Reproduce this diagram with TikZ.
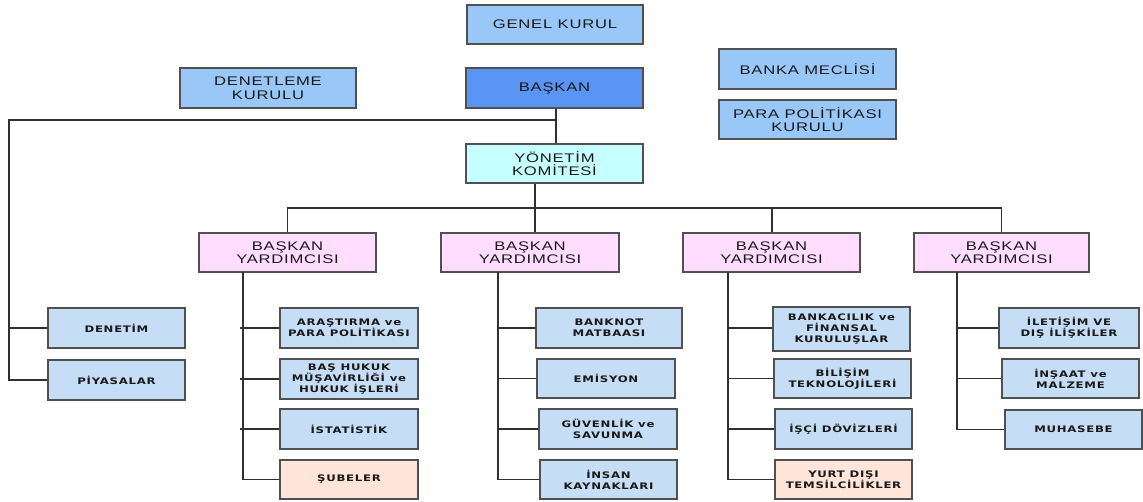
\documentclass[tikz,border=0pt]{standalone}
\usepackage{fontspec}
\newfontfamily\topf[FakeStretch=1.33,LetterSpace=6]{Liberation Sans}
\newfontfamily\subf[FakeStretch=1.3,LetterSpace=8]{DejaVu Sans}
\definecolor{topblue}{HTML}{99C8F8}
\definecolor{chiefblue}{HTML}{5A94F5}
\definecolor{cyanbox}{HTML}{C6FFFF}
\definecolor{pinkbox}{HTML}{FFDDFF}
\definecolor{subblue}{HTML}{C6DDF6}
\definecolor{peach}{HTML}{FFE4DA}
\definecolor{edge}{HTML}{505050}
\definecolor{wire}{HTML}{303030}
\tikzset{
  topbox/.style={draw=edge, line width=1.5pt, fill=topblue, align=center, inner sep=0pt,
    font=\topf\fontsize{12.5}{13.6}\selectfont, text=black!90},
  subbox/.style={draw=edge, line width=1.5pt, fill=subblue, align=center, inner sep=0pt,
    font=\subf\bfseries\fontsize{9}{10.8}\selectfont, text=black!90},
  wire/.style={draw=wire, line width=1.3pt}
}
\begin{document}
\begin{tikzpicture}[x=1pt,y=-1pt]
\useasboundingbox[fill=white] (0,0) rectangle (1143,502);
% top level
\node[topbox, minimum width=176, minimum height=39] (genel) at (555,24.5) {GENEL KURUL};
\node[topbox, minimum width=176, minimum height=40] (denetleme) at (268,88) {DENETLEME\\KURULU};
\node[topbox, fill=chiefblue, minimum width=177, minimum height=40] (baskan) at (554.5,88) {BAŞKAN};
\node[topbox, fill=cyanbox, minimum width=177, minimum height=39] (yonetim) at (554.5,163.5) {YÖNETİM\\KOMİTESİ};
\node[topbox, minimum width=177, minimum height=40] (banka) at (807.5,69) {BANKA MECLİSİ};
\node[topbox, minimum width=177, minimum height=39] (para) at (807.5,119.5) {PARA POLİTİKASI\\KURULU};
% vice presidents
\node[topbox, fill=pinkbox, minimum width=177, minimum height=39] (by1) at (287.5,252.5) {BAŞKAN\\YARDIMCISI};
\node[topbox, fill=pinkbox, minimum width=178, minimum height=39] (by2) at (530,252.5) {BAŞKAN\\YARDIMCISI};
\node[topbox, fill=pinkbox, minimum width=177, minimum height=39] (by3) at (771.5,252.5) {BAŞKAN\\YARDIMCISI};
\node[topbox, fill=pinkbox, minimum width=175, minimum height=39] (by4) at (1001.5,252.5) {BAŞKAN\\YARDIMCISI};
% left units
\node[subbox, minimum width=137, minimum height=40] (denetim) at (116.5,328) {DENETİM};
\node[subbox, minimum width=137, minimum height=40] (piyasa) at (116.5,380) {PİYASALAR};
% column 1
\node[subbox, minimum width=138, minimum height=40] (aras) at (349,328) {ARAŞTIRMA ve\\PARA POLİTİKASI};
\node[subbox, minimum width=138, minimum height=40] (hukuk) at (349,379) {BAŞ HUKUK\\MÜŞAVİRLİĞİ ve\\HUKUK İŞLERİ};
\node[subbox, minimum width=138, minimum height=40] (istat) at (349,429) {İSTATİSTİK};
\node[subbox, fill=peach, minimum width=138, minimum height=39] (sube) at (349,479.5) {ŞUBELER};
% column 2
\node[subbox, minimum width=146, minimum height=40] (banknot) at (609,328) {BANKNOT\\MATBAASI};
\node[subbox, minimum width=138, minimum height=39] (emisyon) at (606,378.5) {EMİSYON};
\node[subbox, minimum width=138, minimum height=40] (guven) at (608,429) {GÜVENLİK ve\\SAVUNMA};
\node[subbox, minimum width=137, minimum height=39] (insan) at (608.5,479.5) {İNSAN\\KAYNAKLARI};
% column 3
\node[subbox, minimum width=137, minimum height=44] (bankac) at (841.5,329) {BANKACILIK ve\\FİNANSAL\\KURULUŞLAR};
\node[subbox, minimum width=137, minimum height=39] (bilisim) at (842.5,378.5) {BİLİŞİM\\TEKNOLOJİLERİ};
\node[subbox, minimum width=137, minimum height=40] (isci) at (843.5,429) {İŞÇİ DÖVİZLERİ};
\node[subbox, fill=peach, minimum width=137, minimum height=39] (yurt) at (843.5,479.5) {YURT DIŞI\\TEMSİLCİLİKLER};
% column 4
\node[subbox, minimum width=140, minimum height=40] (ilet) at (1069,328) {İLETİŞİM VE\\DIŞ İLİŞKİLER};
\node[subbox, minimum width=137, minimum height=39] (insaat) at (1070.5,378.5) {İNŞAAT ve\\MALZEME};
\node[subbox, minimum width=137, minimum height=39] (muhas) at (1073.5,429.5) {MUHASEBE};
% connectors
\coordinate (j0) at (556,120);
\coordinate (lc) at (9,120);
\coordinate (bar) at (535,208);
\draw[wire] (baskan.south -| j0) -- (yonetim.north -| j0);
\draw[wire] (j0) -- (lc) |- (piyasa.west);
\draw[wire] (lc |- denetim.west) -- (denetim.west);
\draw[wire] (yonetim.south -| bar) -- (by2.north -| bar);
\draw[wire] (by1.north) -- (by1.north |- bar) -- (by4.north |- bar) -- (by4.north);
\draw[wire] (by3.north -| 772,0) -- (772,208);
% column 1 tree
\coordinate (v1) at (243,272);
\draw[wire] (v1) |- (sube.west);
\draw[wire] ([xshift=-3pt]v1 |- aras.west) -- (aras.west);
\draw[wire] ([xshift=-3pt]v1 |- hukuk.west) -- (hukuk.west);
\draw[wire] ([xshift=-3pt]v1 |- istat.west) -- (istat.west);
% column 2 tree
\coordinate (v2) at (498,272);
\draw[wire] (v2) |- (insan.west);
\draw[wire] (v2 |- banknot.west) -- (banknot.west);
\draw[wire] (v2 |- emisyon.west) -- (emisyon.west);
\draw[wire] (v2 |- guven.west) -- (guven.west);
% column 3 tree
\coordinate (v3) at (728,272);
\draw[wire] (v3) |- (yurt.west);
\draw[wire] (v3 |- aras.west) -- (bankac.west |- aras.west);
\draw[wire] (v3 |- bilisim.west) -- (bilisim.west);
\draw[wire] (v3 |- isci.west) -- (isci.west);
% column 4 tree
\coordinate (v4) at (957,272);
\draw[wire] (v4) |- (muhas.west);
\draw[wire] (v4 |- ilet.west) -- (ilet.west);
\draw[wire] (v4 |- insaat.west) -- (insaat.west);
\end{tikzpicture}
\end{document}
